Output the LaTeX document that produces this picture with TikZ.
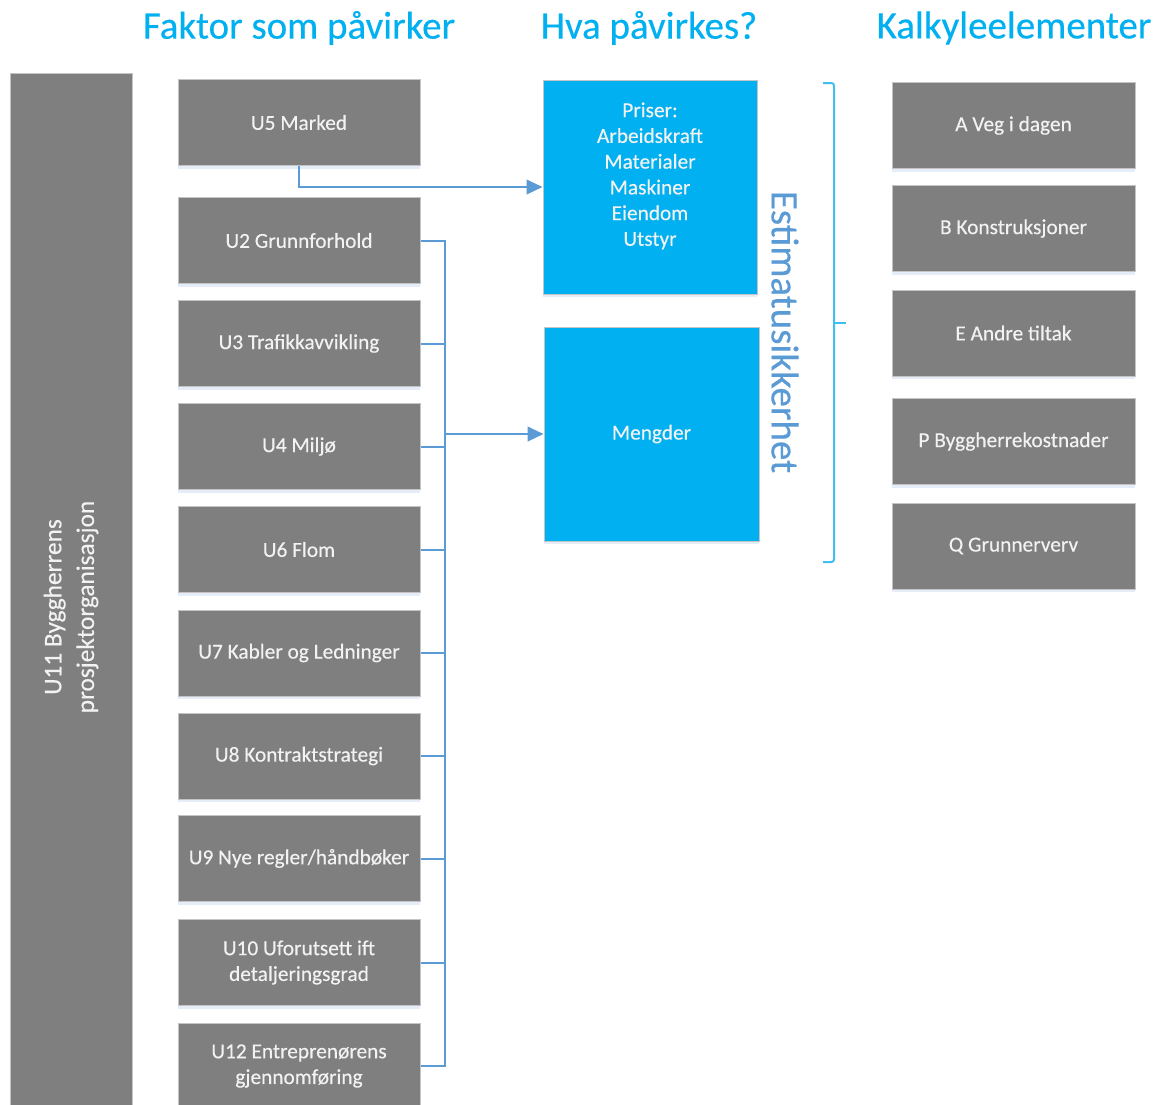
\documentclass[tikz,border=0pt]{standalone}
\usepackage{fontspec}
\setmainfont{Carlito}[FakeBold=0.35]
\usetikzlibrary{arrows.meta,shadows}
\definecolor{boxgray}{RGB}{127,127,127}
\definecolor{boxedge}{RGB}{196,196,196}
\definecolor{cyanfill}{RGB}{0,176,240}
\definecolor{linkblue}{RGB}{91,155,213}
\definecolor{bracecol}{RGB}{64,190,240}
\definecolor{shade}{RGB}{228,237,248}
\definecolor{labelwhite}{RGB}{242,242,242}
\newcommand\pxl{0.75pt}
\tikzset{
  cardbase/.style={draw=boxedge, line width=0.75pt, align=center, inner sep=0pt,
    text=labelwhite, font=\fontsize{16}{19.3}\selectfont,
    drop shadow={shadow xshift=0pt, shadow yshift=-2.5pt, fill=shade, opacity=1}},
  graycard/.style={cardbase, fill=boxgray, minimum width=242*\pxl, minimum height=86*\pxl},
  bluecard/.style={cardbase, fill=cyanfill, minimum width=214*\pxl, minimum height=214*\pxl},
  heading/.style={text=cyanfill, font=\fontsize{29.2}{34}\selectfont},
  link/.style={draw=linkblue, line width=1.5pt},
  linkarrow/.style={link, -{Triangle[length=12pt,width=11pt]}},
}
\begin{document}
\begin{tikzpicture}[x=0.75pt,y=-0.75pt]
\clip (0,0) rectangle (1155,1104);
\fill[white] (0,0) rectangle (1155,1104);

% column headings
\node[heading] (h1) at (299,28) {Faktor som påvirker};
\node[heading] (h2) at (649,28) {Hva påvirkes?};
\node[heading] (h3) at (1014,28) {Kalkyleelementer};

% owner organisation column
\node[graycard, rotate=90, minimum width=1068*\pxl, minimum height=122*\pxl,
      font=\fontsize{19}{24.5}\selectfont] (u11) at (71,607)
  {U11 Byggherrens\\prosjektorganisasjon};

% influencing factors
\node[graycard] (u5)  at (299,122.5) {U5 Marked};
\node[graycard] (u2)  at (299,240.5) {U2 Grunnforhold};
\node[graycard] (u3)  at (299,343.5) {U3 Trafikkavvikling};
\node[graycard] (u4)  at (299,446.5) {U4 Miljø};
\node[graycard] (u6)  at (299,549.5) {U6 Flom};
\node[graycard] (u7)  at (299,653)   {U7 Kabler og Ledninger};
\node[graycard] (u8)  at (299,756)   {U8 Kontraktstrategi};
\node[graycard] (u9)  at (299,858.5) {U9 Nye regler/håndbøker};
\node[graycard] (u10) at (299,962.5) {U10 Uforutsett ift\\detaljeringsgrad};
\node[graycard] (u12) at (299,1066)  {U12 Entreprenørens\\gjennomføring};

% what is affected
\node[bluecard] (priser) at (650,187)
  {Priser:\\Arbeidskraft\\Materialer\\Maskiner\\Eiendom\\Utstyr\\\mbox{}};
\node[bluecard, minimum width=215*\pxl] (mengder) at (651.5,434) {Mengder};

% cost elements
\node[graycard, minimum width=243*\pxl] (ka) at (1013.5,125.5) {A Veg i dagen};
\node[graycard, minimum width=243*\pxl] (kb) at (1013.5,228.5) {B Konstruksjoner};
\node[graycard, minimum width=243*\pxl] (ke) at (1013.5,333)   {E Andre tiltak};
\node[graycard, minimum width=243*\pxl] (kp) at (1013.5,441.5) {P Byggherrekostnader};
\node[graycard, minimum width=243*\pxl] (kq) at (1013.5,546)   {Q Grunnerverv};

% estimate uncertainty brace
\coordinate (btop) at (823,83);
\coordinate (bbot) at (823,562);
\coordinate (bmid) at (834,323);
\coordinate (btip) at (846,323);
\draw[draw=bracecol, line width=1.5pt, rounded corners=2pt]
  (btop) -- (834,83) -- (834,562) -- (bbot);
\draw[draw=bracecol, line width=1.5pt] (bmid) -- (btip);
\node[rotate=-90, text=linkblue, font=\fontsize{29.2}{34}\selectfont] (est) at (785,332)
  {Estimatusikkerhet};

% connectors
\draw[linkarrow] (u5.south) |- (priser.west);
\coordinate (bus) at (445,0);
\draw[link] (u2.east) -- (bus |- u2.east) -- (bus |- u12.east) -- (u12.east);
\foreach \n in {u3,u4,u6,u7,u8,u9,u10}
  \draw[link] (\n.east) -- (bus |- \n.east);
\draw[linkarrow] (bus |- mengder.west) -- (mengder.west);
\end{tikzpicture}
\end{document}
